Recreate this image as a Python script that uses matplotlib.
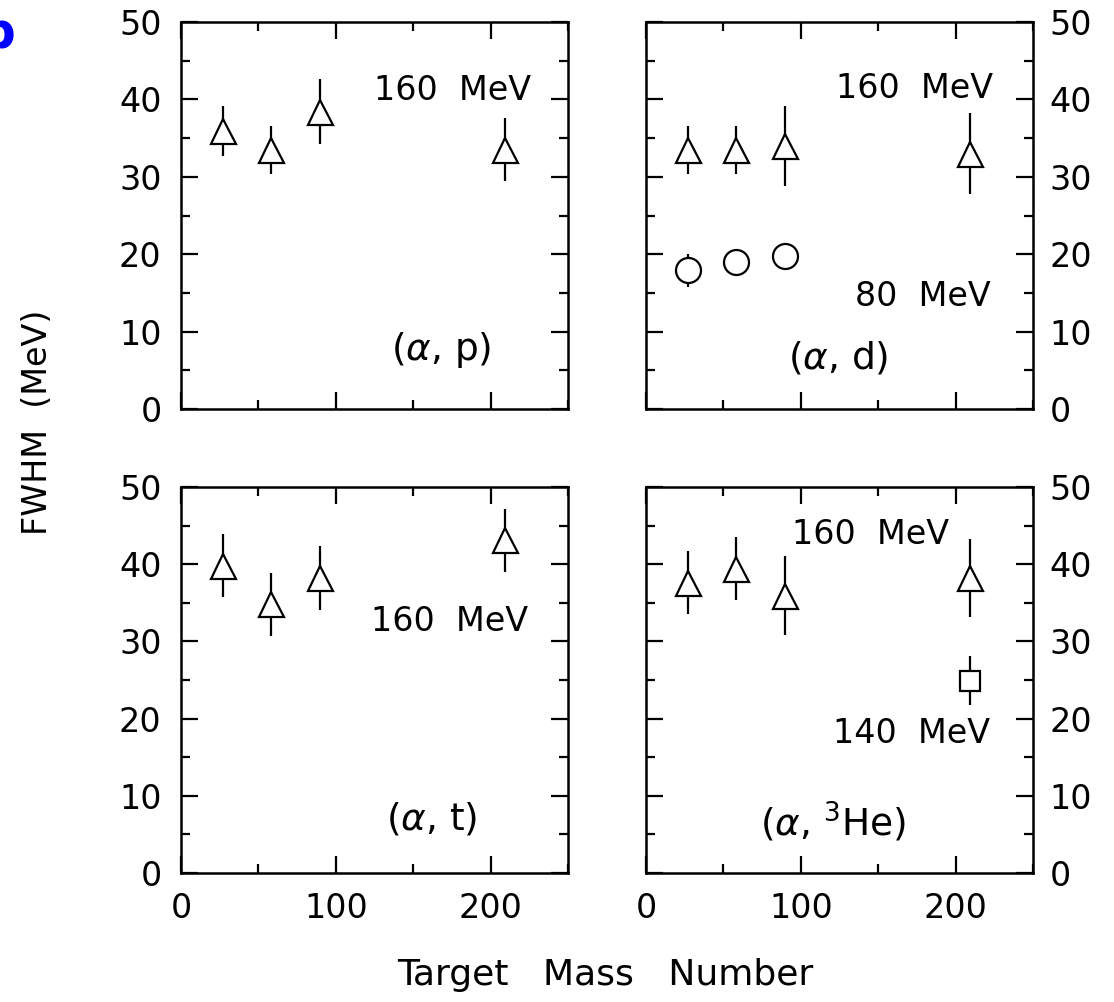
import matplotlib
matplotlib.use('agg')
import matplotlib.pyplot as plt

# target mass numbers (Al, Ni, Zr, Bi)
mass = [27, 58, 90, 209]

# (a,p) 160 MeV
ap_160 = [35.9, 33.5, 38.4, 33.5]
ap_160_err = [3.2, 3.1, 4.2, 4.1]

# (a,d) 160 MeV and 80 MeV
ad_160 = [33.5, 33.5, 34.0, 33.0]
ad_160_err = [3.1, 3.1, 5.2, 5.2]
mass_80 = [27, 58, 90]
ad_80 = [17.9, 19.0, 19.8]
ad_80_err = [2.1, 0.5, 0.5]

# (a,t) 160 MeV
at_160 = [39.8, 34.8, 38.2, 43.1]
at_160_err = [4.1, 4.1, 4.1, 4.1]

# (a,3He) 160 MeV and 140 MeV
ah_160 = [37.6, 39.4, 35.9, 38.2]
ah_160_err = [4.1, 4.1, 5.1, 5.1]
mass_140 = [209]
ah_140 = [24.9]
ah_140_err = [3.2]

FS = 24

fig = plt.figure(figsize=(11.14, 10.02), dpi=100)
W, H = 1114.0, 1002.0
ax_tl = fig.add_axes([181 / W, 1 - 409 / H, 387 / W, 387 / H])
ax_tr = fig.add_axes([646 / W, 1 - 409 / H, 387 / W, 387 / H])
ax_bl = fig.add_axes([181 / W, 1 - 873 / H, 387 / W, 386 / H])
ax_br = fig.add_axes([646 / W, 1 - 873 / H, 387 / W, 386 / H])


def style(ax, right=False, bottom=False):
    ax.set_xlim(0, 250)
    ax.set_ylim(0, 50)
    ax.set_xticks([0, 100, 200])
    ax.set_xticks([50, 150, 250], minor=True)
    ax.set_yticks([0, 10, 20, 30, 40, 50])
    ax.set_yticks([5, 15, 25, 35, 45], minor=True)
    ax.tick_params(which='both', direction='in', top=True, right=True,
                   labelsize=FS, width=1.6, pad=14)
    ax.tick_params(which='major', length=12)
    ax.tick_params(which='minor', length=6.5)
    ax.tick_params(axis='x', labelbottom=bottom)
    if right:
        ax.tick_params(axis='y', labelleft=False, labelright=True, pad=12)
    for s in ax.spines.values():
        s.set_linewidth(1.8)


def pts(ax, x, y, e, marker, ms):
    ax.errorbar(x, y, yerr=e, fmt=marker, ms=ms, mfc='white', mec='black',
                mew=1.6, ecolor='black', elinewidth=1.6, capsize=0)


style(ax_tl)
style(ax_tr, right=True)
style(ax_bl, bottom=True)
style(ax_br, right=True, bottom=True)

pts(ax_tl, mass, ap_160, ap_160_err, '^', 18)
pts(ax_tr, mass, ad_160, ad_160_err, '^', 18)
pts(ax_tr, mass_80, ad_80, ad_80_err, 'o', 18)
pts(ax_bl, mass, at_160, at_160_err, '^', 18)
pts(ax_br, mass, ah_160, ah_160_err, '^', 18)
pts(ax_br, mass_140, ah_140, ah_140_err, 's', 15)

RS = 27  # reaction labels
ax_tl.text(226, 41.2, '160  MeV', fontsize=FS, ha='right', va='center')
ax_tl.text(168, 7.6, r'($\alpha$, p)', fontsize=RS, ha='center', va='center')

ax_tr.text(224, 41.4, '160  MeV', fontsize=FS, ha='right', va='center')
ax_tr.text(223, 14.5, '80  MeV', fontsize=FS, ha='right', va='center')
ax_tr.text(124, 6.6, r'($\alpha$, d)', fontsize=RS, ha='center', va='center')

ax_bl.text(224, 32.6, '160  MeV', fontsize=FS, ha='right', va='center')
ax_bl.text(162, 7.0, r'($\alpha$, t)', fontsize=RS, ha='center', va='center')

ax_br.text(196, 43.8, '160  MeV', fontsize=FS, ha='right', va='center')
ax_br.text(222, 18.1, '140  MeV', fontsize=FS, ha='right', va='center')
ax_br.text(121, 6.6, r'($\alpha$, $^{3}$He)', fontsize=RS, ha='center', va='center')

fig.text(38 / W, 1 - 422 / H, 'FWHM  (MeV)', fontsize=FS, rotation=90,
         ha='center', va='center')
fig.text(605 / W, 1 - 975 / H, 'Target   Mass   Number', fontsize=26,
         ha='center', va='center')
fig.text(16 / W, 1 - 48 / H, 'b', fontsize=36, fontweight='bold',
         color='blue', ha='right', va='baseline')

fig.savefig('out.png', dpi=100)
